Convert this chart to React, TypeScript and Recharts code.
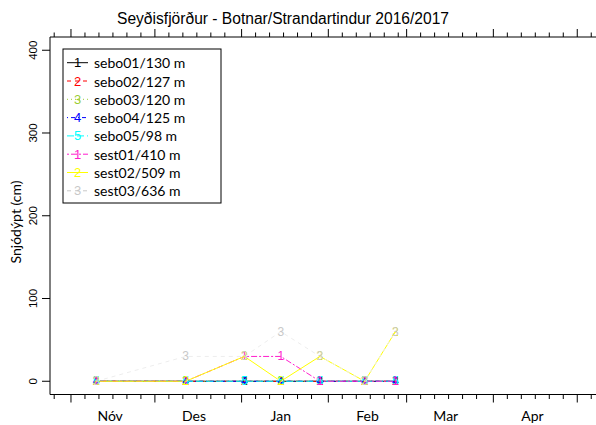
import React from 'react';
import { LineChart, Line, XAxis, YAxis, Customized } from 'recharts';

// Survey dates (snow stake readings)
const surveyDates = ['2016-11-10', '2016-12-12', '2017-01-02', '2017-01-15', '2017-01-29', '2017-02-14', '2017-02-25'];

// Snow depth (cm) per stake
const sebo01 = [0, 0, 0, 0, 0, 0, 0];
const sebo02 = [0, 0, 0, 0, 0, 0, 0];
const sebo03 = [0, 0, 0, 0, 0, 0, 0];
const sebo04 = [0, 0, 0, 0, 0, 0, 0];
const sebo05 = [0, 0, 0, 0, 0, 0, 0];
const sest01 = [0, 0, 30, 30, 0, 0, 0];
const sest02 = [0, 0, 30, 0, 30, 0, 60];
const sest03 = [0, 30, 30, 60, 30, 0, 60];

const seriesNames = ['sebo01/130 m', 'sebo02/127 m', 'sebo03/120 m', 'sebo04/125 m', 'sebo05/98 m', 'sest01/410 m', 'sest02/509 m', 'sest03/636 m'];
const seriesSymbols = ['1', '2', '3', '4', '5', '1', '2', '3'];
const seriesValues = [sebo01, sebo02, sebo03, sebo04, sebo05, sest01, sest02, sest03];

const monthLabels = ['Nóv', 'Des', 'Jan', 'Feb', 'Mar', 'Apr'];
const monthLabelDates = ['2016-11-15', '2016-12-15', '2017-01-15', '2017-02-15', '2017-03-15', '2017-04-15'];
const monthStartDates = ['2016-10-01', '2016-11-01', '2016-12-01', '2017-01-01', '2017-02-01', '2017-03-01', '2017-04-01', '2017-05-01'];
const yTicks = [0, 100, 200, 300, 400];

const TITLE = 'Seyðisfjörður - Botnar/Strandartindur 2016/2017';
const Y_TITLE = 'Snjódýpt (cm)';

// styles
const COLORS = ['#000000', '#FF0000', '#9ACD32', '#0000FF', '#00FFFF', '#FF1ECC', '#FFFF00', '#C8C8C8'];
const LINE_COLORS = ['#000000', '#FF0000', '#9ACD32', '#0000FF', '#00FFFF', '#FF1ECC', '#FFFF00', '#EDEDED'];
const DASHES = [undefined, '4 4', '1 3', '1 3 4 3', '7 3', '2 2 6 2', undefined, '4 4'];
const SANS = '"Liberation Sans", Arial, sans-serif';
const HUM = 'Lato, "Open Sans", sans-serif';

const ORIGIN = Date.UTC(2016, 10, 1);
const dayOf = (s: string) => {
  const [y, m, d] = s.split('-').map(Number);
  return (Date.UTC(y, m - 1, d) - ORIGIN) / 86400000;
};

const X_DOMAIN: [number, number] = [-7.5, 187.7];
const inDomain = (v: number) => v >= X_DOMAIN[0] && v <= X_DOMAIN[1];

const majorTicks = monthStartDates.map(dayOf).filter(inDomain);
const minorTicks = monthStartDates
  .flatMap((s) => [5, 10, 15, 20, 25].map((o) => dayOf(s) + o))
  .filter(inDomain);
const labelTicks = monthLabelDates.map(dayOf);
const labelMap = new Map(labelTicks.map((v, i) => [v, monthLabels[i]]));
const majorSet = new Set(majorTicks);
const minorSet = new Set(minorTicks);

const bottomTicks = Array.from(new Set([...majorTicks, ...minorTicks, ...labelTicks])).sort((a, b) => a - b);
const topTicks = Array.from(new Set([...majorTicks, ...minorTicks])).sort((a, b) => a - b);

const data = surveyDates.map((s, i) => {
  const row: Record<string, number> = { d: dayOf(s) };
  seriesValues.forEach((vals, k) => {
    row['s' + k] = vals[i];
  });
  return row;
});

const BottomTick = (props: any) => {
  const { x, y, payload } = props;
  const v = payload.value;
  const label = labelMap.get(v);
  return (
    <g>
      {majorSet.has(v) && <line x1={x} x2={x} y1={y} y2={y + 8} stroke="#000" strokeWidth={1} />}
      {minorSet.has(v) && <line x1={x} x2={x} y1={y} y2={y + 4.5} stroke="#000" strokeWidth={1} />}
      {label && (
        <text x={x} y={y + 26} textAnchor="middle" fontFamily={HUM} fontSize={14} fill="#000">
          {label}
        </text>
      )}
    </g>
  );
};

const TopTick = (props: any) => {
  const { x, y, payload } = props;
  const v = payload.value;
  const len = majorSet.has(v) ? 8 : 4.5;
  return <line x1={x} x2={x} y1={y} y2={y - len} stroke="#000" strokeWidth={1} />;
};

const LeftTick = (props: any) => {
  const { x, y, payload } = props;
  return (
    <g>
      <line x1={x - 8} x2={x} y1={y} y2={y} stroke="#000" strokeWidth={1} />
      <text
        x={x - 17}
        y={y}
        transform={`rotate(-90 ${x - 17} ${y})`}
        textAnchor="middle"
        dominantBaseline="central"
        fontFamily={SANS}
        fontSize={11.5}
        fill="#000"
      >
        {payload.value}
      </text>
    </g>
  );
};

const makeDot = (k: number) => (props: any) => {
  const { cx, cy, index } = props;
  if (cx == null || cy == null) return <g key={`d${k}-${index}`} />;
  return (
    <text
      key={`d${k}-${index}`}
      x={cx}
      y={cy}
      textAnchor="middle"
      dominantBaseline="central"
      fontFamily={SANS}
      fontSize={12}
      fill={COLORS[k]}
    >
      {seriesSymbols[k]}
    </text>
  );
};

const Decorations = () => {
  const boxX = 63;
  const boxY = 49;
  const rowH = 18.3;
  return (
    <g>
      <text x={283} y={24} textAnchor="middle" fontFamily={SANS} fontSize={15.6} fill="#000">
        {TITLE}
      </text>
      <text
        x={15}
        y={222}
        transform="rotate(-90 15 222)"
        textAnchor="middle"
        dominantBaseline="central"
        fontFamily={HUM}
        fontSize={14}
        fill="#000"
      >
        {Y_TITLE}
      </text>
      <rect x={boxX} y={boxY} width={158} height={154} fill="#fff" stroke="#000" strokeWidth={1} />
      {seriesNames.map((name, k) => {
        const cy = boxY + 13.7 + k * rowH;
        return (
          <g key={name}>
            <line x1={67} x2={88} y1={cy} y2={cy} stroke={COLORS[k]} strokeWidth={1} strokeDasharray={DASHES[k]} />
            <text x={77.5} y={cy} textAnchor="middle" dominantBaseline="central" fontFamily={SANS} fontSize={13} fill={COLORS[k]}>
              {seriesSymbols[k]}
            </text>
            <text x={94} y={cy} dominantBaseline="central" fontFamily={HUM} fontSize={14} fill="#000">
              {name}
            </text>
          </g>
        );
      })}
    </g>
  );
};

export default function App() {
  return (
    <div style={{ position: 'absolute', left: 0, top: 0, background: '#fff' }}>
      <LineChart width={596} height={425} data={data} margin={{ top: 0, right: 0, bottom: 0, left: 0 }}>
        <XAxis
          dataKey="d"
          type="number"
          domain={X_DOMAIN}
          ticks={bottomTicks}
          interval={0}
          tickSize={0}
          tickMargin={0}
          tickLine={false}
          axisLine={{ stroke: '#000', strokeWidth: 1 }}
          tick={<BottomTick />}
          height={30.5}
          allowDataOverflow
        />
        <XAxis
          xAxisId="top"
          orientation="top"
          dataKey="d"
          type="number"
          domain={X_DOMAIN}
          ticks={topTicks}
          interval={0}
          tickSize={0}
          tickMargin={0}
          tickLine={false}
          axisLine={{ stroke: '#000', strokeWidth: 1 }}
          tick={<TopTick />}
          height={37}
          allowDataOverflow
        />
        <YAxis
          type="number"
          domain={[-16, 416]}
          ticks={yTicks}
          interval={0}
          tickSize={0}
          tickMargin={0}
          tickLine={false}
          axisLine={{ stroke: '#000', strokeWidth: 1 }}
          tick={<LeftTick />}
          width={50}
          allowDataOverflow
        />
        {seriesValues.map((_, k) => (
          <Line
            key={k}
            dataKey={'s' + k}
            type="linear"
            stroke={LINE_COLORS[k]}
            strokeWidth={1}
            strokeDasharray={DASHES[k]}
            dot={makeDot(k)}
            activeDot={false}
            isAnimationActive={false}
          />
        ))}
        <Customized component={Decorations} />
      </LineChart>
    </div>
  );
}
